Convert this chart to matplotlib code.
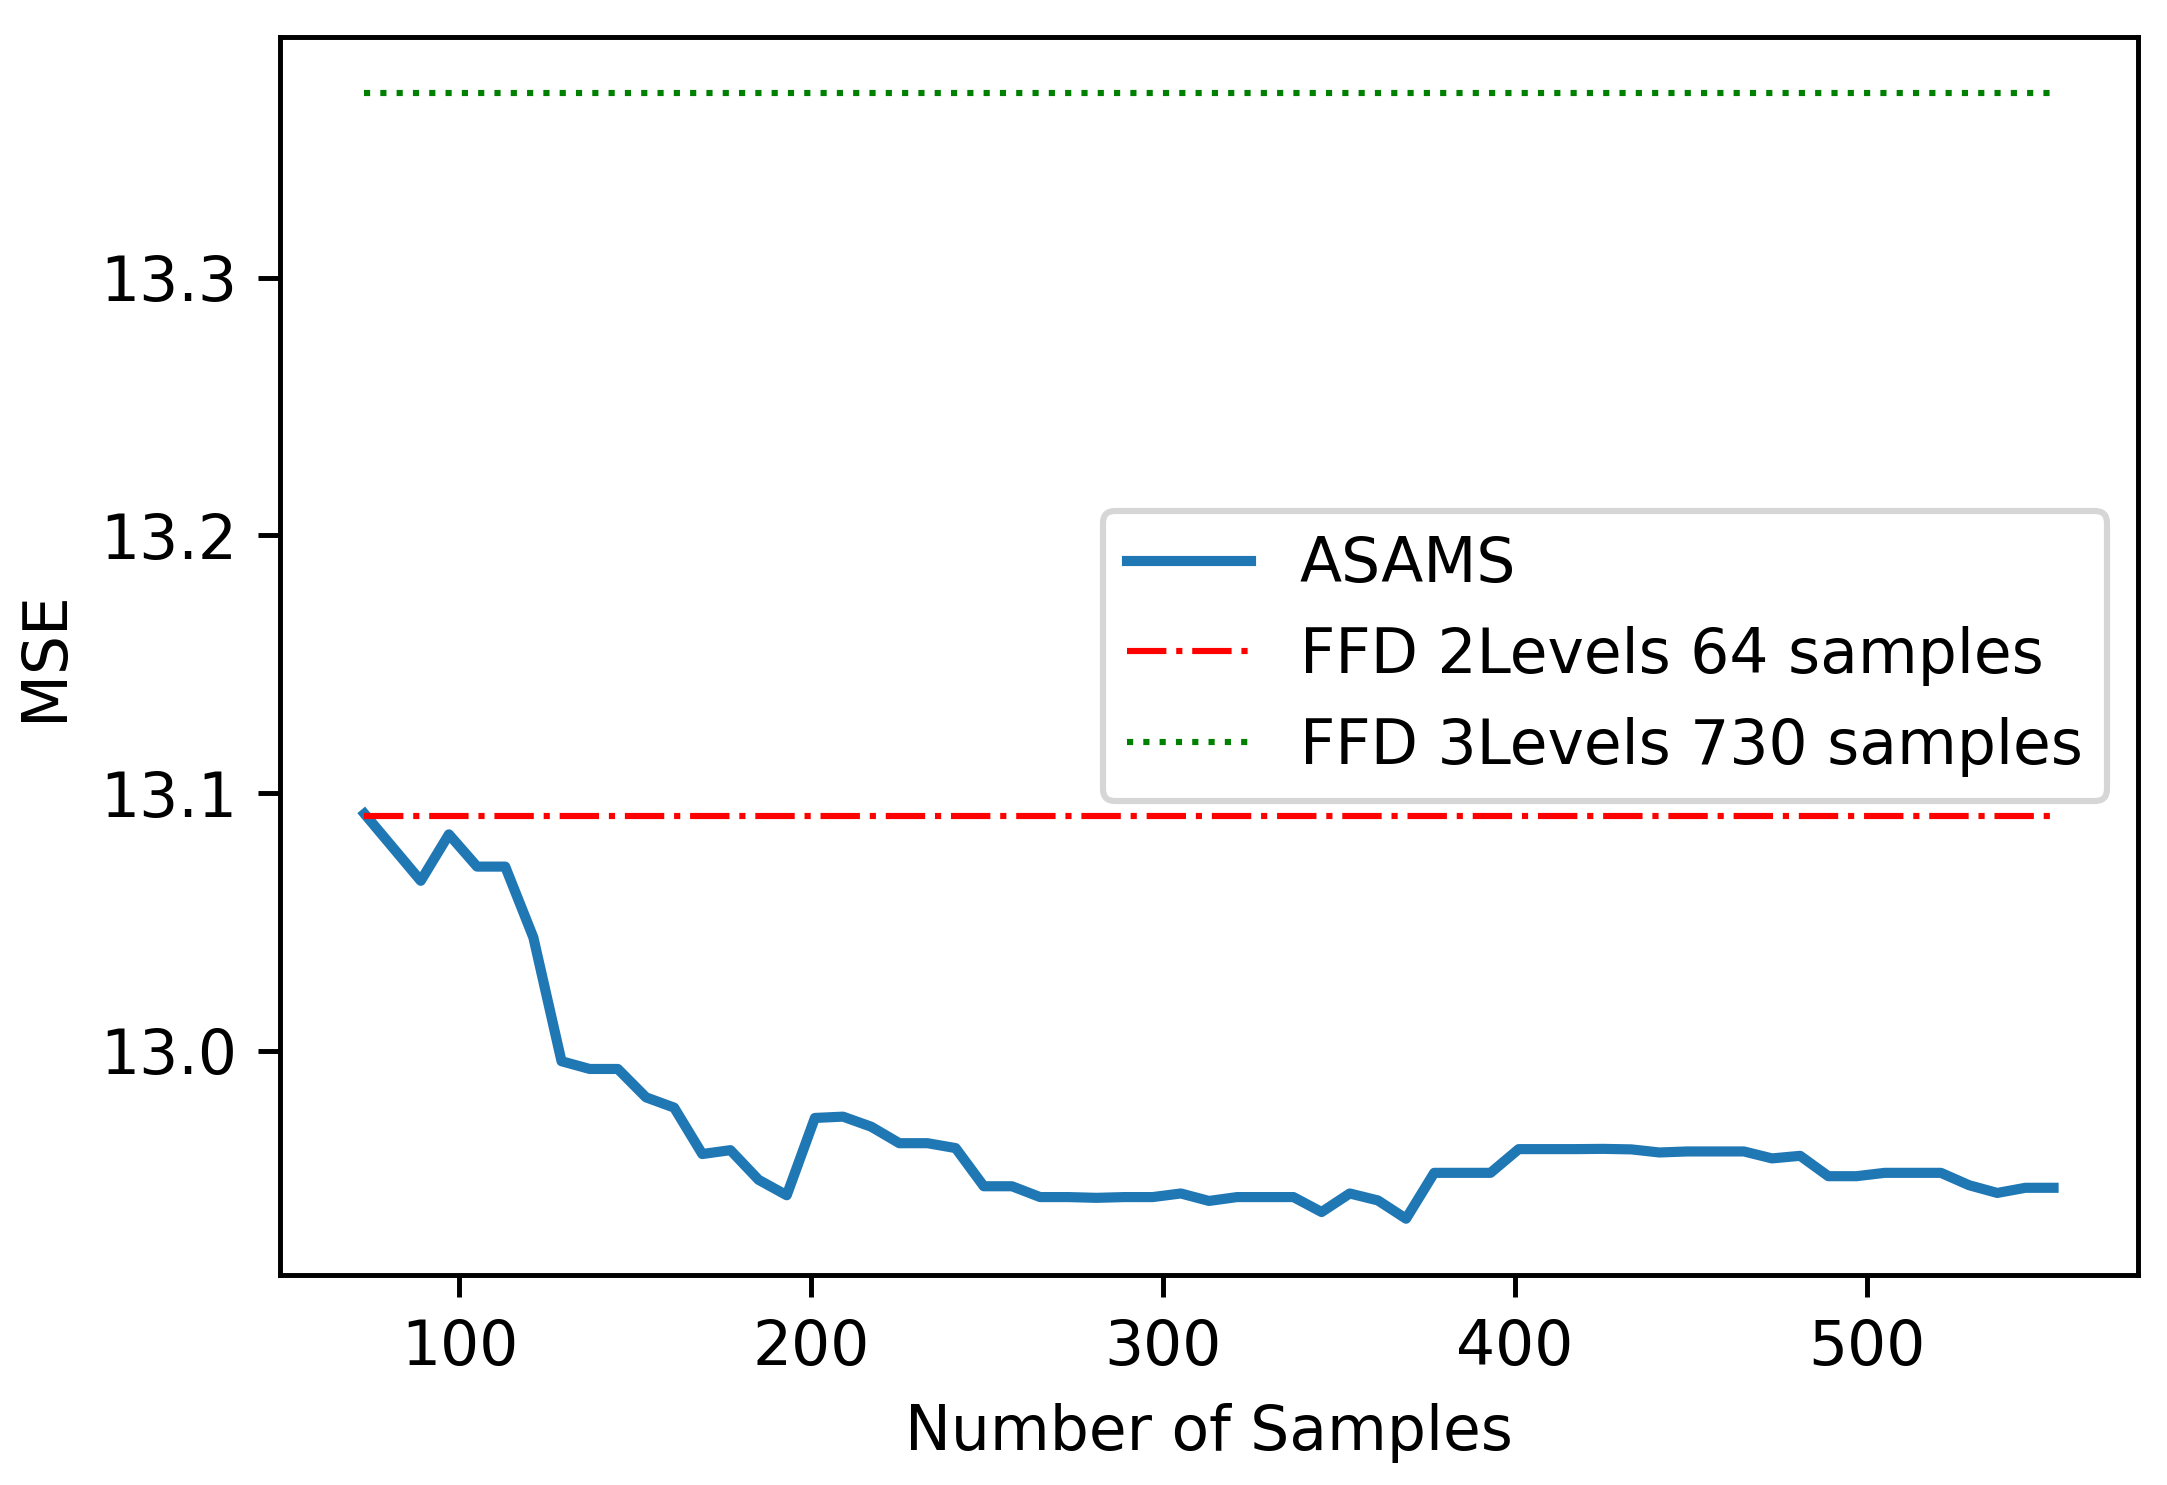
import matplotlib
matplotlib.use("Agg")
import matplotlib.pyplot as plt

# Data
samples = list(range(73, 554, 8))
asams_mse = [
    13.092, 13.079, 13.066, 13.084, 13.0715, 13.0715, 13.044, 12.996, 12.993, 12.993,
    12.982, 12.978, 12.960, 12.9615, 12.950, 12.944, 12.974, 12.9745, 12.9706, 12.9642,
    12.9642, 12.9623, 12.9475, 12.9475, 12.9433, 12.9433, 12.943, 12.9433, 12.9433, 12.9447,
    12.9418, 12.9433, 12.9433, 12.9433, 12.9375, 12.9447, 12.942, 12.9349, 12.9527, 12.9527,
    12.9527, 12.9619, 12.9619, 12.9619, 12.962, 12.9618, 12.9606, 12.961, 12.961, 12.961,
    12.9583, 12.9593, 12.9514, 12.9514, 12.9527, 12.9527, 12.9527, 12.9479, 12.9449, 12.9469,
    12.9469,
]
ffd2_mse = 13.0912
ffd3_mse = 13.3715

labels = ["ASAMS", "FFD 2Levels 64 samples", "FFD 3Levels 730 samples"]

dpi = 443
W, H = 2167, 1485
fig = plt.figure(figsize=(W / dpi, H / dpi), dpi=dpi)
ax = fig.add_axes([280 / W, 1 - 1275 / H, (2138 - 280) / W, (1275 - 37) / H])

ax.plot(samples, asams_mse, color="#1f77b4", linestyle="-", linewidth=1.65, label=labels[0])
ax.plot(samples, [ffd2_mse] * len(samples), color="r", linestyle="-.", linewidth=1.0, label=labels[1])
ax.plot(samples, [ffd3_mse] * len(samples), color="g", linestyle=":", linewidth=1.0, label=labels[2])

ax.set_xlabel("Number of Samples")
ax.set_ylabel("MSE")
ax.legend(loc="center right")

fig.savefig("out.png", dpi=dpi)
